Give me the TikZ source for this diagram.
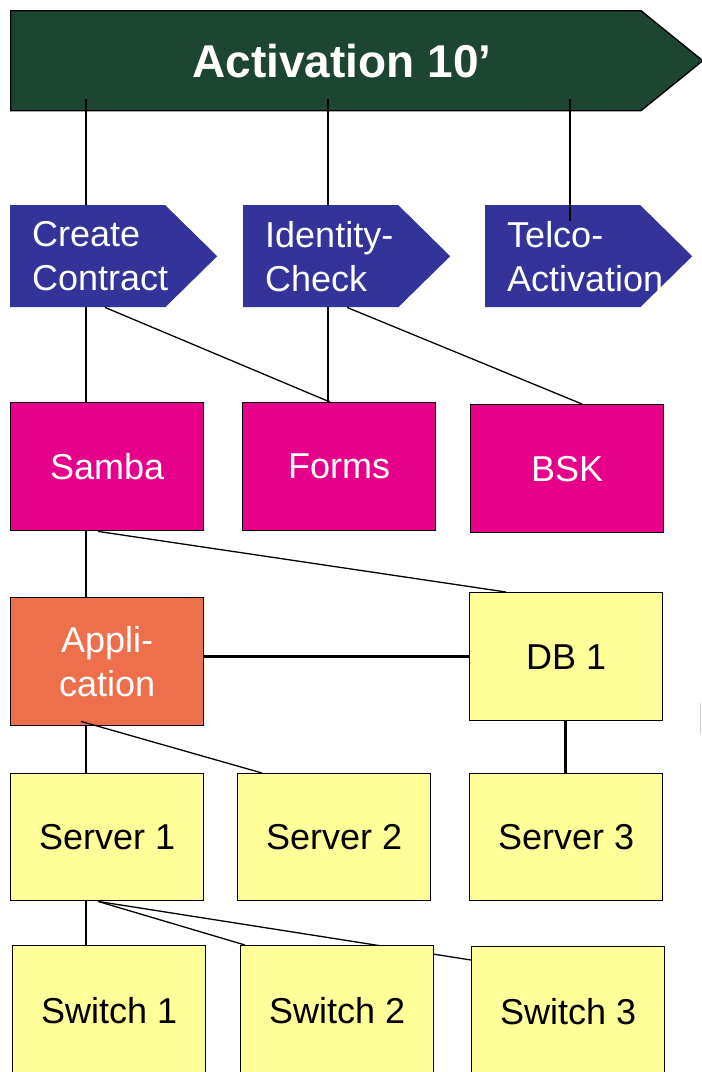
\documentclass[tikz,border=0pt]{standalone}
\usepackage{fontspec}
\setmainfont{Liberation Sans}
\usetikzlibrary{shapes.symbols}
\definecolor{bannergreen}{HTML}{1C4532}
\definecolor{procblue}{HTML}{333399}
\definecolor{sysmag}{HTML}{E6008A}
\definecolor{apporange}{HTML}{EE6F4C}
\definecolor{hwyellow}{HTML}{FFFF99}
\begin{document}
\begin{tikzpicture}[x=1pt,y=-1pt,
  boxtext/.style={font=\fontsize{36}{44}\selectfont},
  box/.style={boxtext, draw=black, line width=1.4pt, anchor=north west,
    minimum width=193pt, minimum height=128pt, inner sep=0pt, align=center},
  sysbox/.style={box, fill=sysmag, text=white},
  appbox/.style={box, fill=apporange, text=white},
  hwbox/.style={box, fill=hwyellow, text=black},
  procarrow/.style={signal, signal to=east, signal pointer angle=89,
    fill=procblue, anchor=north west, minimum width=207pt,
    minimum height=102pt, inner sep=0pt},
  proctext/.style={boxtext, text=white, align=left, anchor=west, inner sep=0pt},
  link/.style={draw=black, line width=1.3pt},
  heavylink/.style={draw=black, line width=3pt}
]
\useasboundingbox (0,0) rectangle (702,1072);

% overall phase banner
\node[signal, signal to=east, signal pointer angle=78, fill=bannergreen,
  draw=black, line width=1.4pt, anchor=north west, minimum width=692pt,
  minimum height=100pt, inner sep=0pt] (ban) at (10,10) {};
\node[text=white, font=\bfseries\fontsize{46}{50}\selectfont] (bantext) at (342,61) {Activation 10’};

% process steps
\node[procarrow] (cc) at (10,205) {};
\node[procarrow] (ic) at (243,205) {};
\node[procarrow] (ta) at (485,205) {};
\node[proctext] (cctext) at ([xshift=22pt]cc.west) {Create\\Contract};
\node[proctext] (ictext) at ([xshift=22pt]ic.west) {Identity-\\Check};

% systems
\node[sysbox] (samba) at (10,402) {Samba};
\node[sysbox] (forms) at (242,402) {Forms};
\node[sysbox] (bsk) at (470,404) {BSK};

% application and database
\node[appbox] (app) at (10,597) {Appli-\\cation};
\node[hwbox] (db) at (469,592) {DB 1};

% servers
\node[hwbox, minimum height=127pt] (s1) at (10,773) {Server 1};
\node[hwbox, minimum height=127pt] (s2) at (237,773) {Server 2};
\node[hwbox, minimum height=127pt] (s3) at (469,773) {Server 3};

% switches (the middle one is placed last so it covers the long link)
\node[hwbox, minimum height=130pt] (w1) at (12,945) {Switch 1};
\node[hwbox, minimum height=130pt] (w3) at (471,946) {Switch 3};
\path[link] ([xshift=88pt]s1.south west) -- ([yshift=-14pt]w3.north west);
\node[hwbox, minimum height=130pt] (w2) at (240,945) {Switch 2};

% banner to process steps
\path[link] ([xshift=76pt,yshift=12pt]ban.south west) -- ([xshift=76pt]cc.north west);
\path[link] ([xshift=318pt,yshift=12pt]ban.south west) -- ([xshift=85pt]ic.north west);
\path[link] ([xshift=560pt,yshift=12pt]ban.south west) -- ([xshift=85pt,yshift=-16pt]ta.north west);
\node[proctext] (tatext) at ([xshift=22pt]ta.west) {Telco-\\Activation};

% process steps to systems
\path[link] ([xshift=76pt]cc.south west) -- ([xshift=76pt]samba.north west);
\path[link] ([xshift=95pt]cc.south west) -- ([xshift=88pt]forms.north west);
\path[link] ([xshift=85pt]ic.south west) -- ([xshift=86pt]forms.north west);
\path[link] ([xshift=104pt]ic.south west) -- ([xshift=112pt]bsk.north west);

% systems to application layer
\path[link] ([xshift=76pt]samba.south west) -- ([xshift=76pt]app.north west);
\path[link] ([xshift=88pt]samba.south west) -- ([xshift=37pt]db.north west);

% application layer to servers
\path[heavylink] ([yshift=5pt]app.east) -- (db.west);
\path[heavylink] ([xshift=96pt]db.south west) -- ([xshift=96pt]s3.north west);
\path[link] ([xshift=76pt]app.south west) -- ([xshift=76pt]s1.north west);
\path[link] ([xshift=71pt,yshift=5pt]app.south west) -- ([xshift=25pt]s2.north west);

% servers to switches
\path[link] ([xshift=76pt]s1.south west) -- ([xshift=74pt]w1.north west);
\path[link] ([xshift=88pt]s1.south west) -- ([xshift=5pt]w2.north west);

% small mark at the right edge
\draw[gray!35, line width=1pt] (700,703) -- (700,734);
\end{tikzpicture}
\end{document}
